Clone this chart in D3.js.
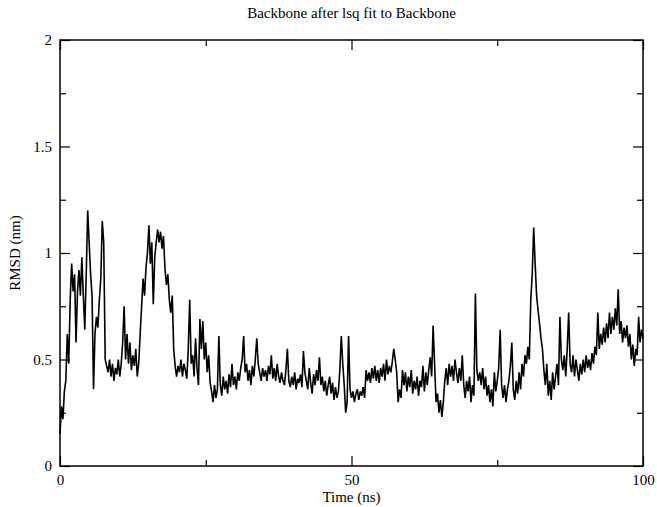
<!DOCTYPE html>
<html>
<head>
<meta charset="utf-8">
<script src="https://cdnjs.cloudflare.com/ajax/libs/d3/7.8.5/d3.min.js"></script>
<style>
  body { margin: 0; background: #fff; }
  text { font-family: "Liberation Serif", "DejaVu Serif", serif; fill: #000; }
</style>
</head>
<body>
<div id="chart"></div>
<script>
// rmsd values, one every 0.25 ns (4 per row = 1 ns)
var rmsd = [
  0.15, 0.28, 0.22, 0.35,  0.40, 0.62, 0.48, 0.78,  0.95, 0.82, 0.90, 0.58,  0.82, 0.92, 0.80, 0.98,
  0.80, 0.64, 0.90, 1.20,  1.05, 0.90, 0.80, 0.36,  0.62, 0.70, 0.65, 0.78,  0.88, 1.15, 1.05, 0.50,
  0.47, 0.44, 0.50, 0.42,  0.48, 0.40, 0.46, 0.43,  0.50, 0.42, 0.48, 0.58,  0.75, 0.50, 0.62, 0.48,
  0.58, 0.45, 0.52, 0.47,  0.55, 0.42, 0.48, 0.62,  0.75, 0.88, 0.80, 0.93,  1.00, 1.13, 0.95, 1.05,
  0.76, 0.98, 1.05, 1.11,  1.05, 1.10, 1.02, 1.08,  0.93, 0.85, 0.90, 0.78,  0.72, 0.80, 0.55, 0.47,
  0.42, 0.47, 0.44, 0.50,  0.42, 0.48, 0.45, 0.41,  0.55, 0.78, 0.48, 0.52,  0.42, 0.60, 0.46, 0.38,
  0.69, 0.55, 0.68, 0.50,  0.58, 0.44, 0.52, 0.39,  0.35, 0.30, 0.38, 0.32,  0.36, 0.61, 0.38, 0.33,
  0.42, 0.36, 0.40, 0.34,  0.43, 0.37, 0.48, 0.38,  0.42, 0.36, 0.44, 0.40,  0.46, 0.50, 0.61, 0.44,
  0.48, 0.40, 0.45, 0.38,  0.47, 0.42, 0.50, 0.60,  0.48, 0.44, 0.40, 0.46,  0.42, 0.45, 0.40, 0.47,
  0.43, 0.52, 0.41, 0.46,  0.40, 0.48, 0.42, 0.39,  0.44, 0.40, 0.38, 0.45,  0.55, 0.40, 0.37, 0.42,
  0.38, 0.44, 0.36, 0.41,  0.39, 0.43, 0.37, 0.54,  0.44, 0.40, 0.36, 0.46,  0.39, 0.34, 0.43, 0.38,
  0.45, 0.40, 0.51, 0.38,  0.42, 0.35, 0.40, 0.33,  0.38, 0.42, 0.34, 0.39,  0.31, 0.37, 0.32, 0.35,
  0.45, 0.61, 0.48, 0.38,  0.25, 0.30, 0.61, 0.36,  0.32, 0.35, 0.30, 0.34,  0.36, 0.31, 0.35, 0.33,
  0.37, 0.32, 0.45, 0.40,  0.44, 0.39, 0.46, 0.41,  0.47, 0.40, 0.45, 0.39,  0.46, 0.42, 0.48, 0.40,
  0.50, 0.43, 0.47, 0.44,  0.49, 0.55, 0.50, 0.44,  0.30, 0.36, 0.32, 0.45,  0.38, 0.44, 0.35, 0.42,
  0.37, 0.45, 0.34, 0.40,  0.36, 0.42, 0.33, 0.40,  0.37, 0.47, 0.35, 0.44,  0.38, 0.45, 0.51, 0.42,
  0.66, 0.48, 0.30, 0.34,  0.25, 0.31, 0.23, 0.30,  0.40, 0.46, 0.38, 0.48,  0.42, 0.47, 0.40, 0.50,
  0.44, 0.39, 0.46, 0.40,  0.52, 0.38, 0.32, 0.40,  0.35, 0.42, 0.30, 0.38,  0.33, 0.81, 0.45, 0.40,
  0.44, 0.38, 0.46, 0.36,  0.42, 0.33, 0.38, 0.30,  0.36, 0.28, 0.44, 0.35,  0.40, 0.46, 0.64, 0.38,
  0.32, 0.38, 0.30, 0.36,  0.40, 0.47, 0.58, 0.36,  0.31, 0.40, 0.34, 0.44,  0.36, 0.48, 0.42, 0.52,
  0.48, 0.56, 0.50, 0.78,  0.90, 1.12, 0.95, 0.80,  0.73, 0.67, 0.60, 0.55,  0.45, 0.38, 0.48, 0.33,
  0.40, 0.31, 0.44, 0.36,  0.42, 0.48, 0.38, 0.70,  0.50, 0.45, 0.52, 0.42,  0.55, 0.72, 0.48, 0.44,
  0.52, 0.42, 0.50, 0.45,  0.40, 0.48, 0.43, 0.50,  0.44, 0.52, 0.46, 0.50,  0.45, 0.53, 0.48, 0.56,
  0.52, 0.72, 0.55, 0.62,  0.57, 0.65, 0.58, 0.67,  0.60, 0.72, 0.62, 0.70,  0.64, 0.74, 0.66, 0.83,
  0.62, 0.68, 0.58, 0.65,  0.60, 0.66, 0.56, 0.62,  0.50, 0.57, 0.47, 0.55,  0.52, 0.70, 0.58, 0.64,
  0.60
];
var step = 0.25; // ns between samples

var xMajor = [0, 50, 100],
    xMinor = [25, 75],
    yMajor = [0, 0.5, 1, 1.5, 2],
    yMinor = [0.25, 0.75, 1.25, 1.75];

var title = "Backbone after lsq fit to Backbone",
    xTitle = "Time (ns)",
    yTitle = "RMSD (nm)";

var margin = { top: 40, left: 60, right: 14, bottom: 41 },
    width = 657 - margin.left - margin.right,
    height = 507 - margin.top - margin.bottom;

var svg = d3.select("#chart")
    .append("svg")
    .attr("width", 657)
    .attr("height", 507)
    .append("g")
    .attr("transform", "translate(" + margin.left + "," + margin.top + ")");

var x = d3.scaleLinear().domain([0, 100]).range([0, width]);
var y = d3.scaleLinear().domain([0, 2]).range([height, 0]);

// the trace itself (a bit heavy, the original is a dense band of frames)
var line = d3.line()
    .x(function(d, i) { return x(i * step); })
    .y(function(d) { return y(d); });

svg.append("path")
    .datum(rmsd)
    .attr("d", line)
    .attr("fill", "none")
    .attr("stroke", "#000")
    .attr("stroke-width", 1.6)
    .attr("stroke-linejoin", "miter");

// grace style: inward ticks on all four sides, labels only bottom + left
function ticks(axis, values, len) {
    return axis(values === xMajor || values === xMinor ? x : y)
        .tickValues(values)
        .tickSizeInner(-len)
        .tickSizeOuter(0)
        .tickPadding(6);
}

var bottomMajor = svg.append("g").attr("transform", "translate(0," + height + ")")
    .call(ticks(d3.axisBottom, xMajor, 10).tickFormat(d3.format("d")));
svg.append("g").attr("transform", "translate(0," + height + ")")
    .call(ticks(d3.axisBottom, xMinor, 6).tickFormat(""));
svg.append("g").call(ticks(d3.axisTop, xMajor, 10).tickFormat(""));
svg.append("g").call(ticks(d3.axisTop, xMinor, 6).tickFormat(""));

var leftMajor = svg.append("g")
    .call(ticks(d3.axisLeft, yMajor, 10).tickFormat(function(d) { return d3.format("")(d); }));
svg.append("g").call(ticks(d3.axisLeft, yMinor, 6).tickFormat(""));
svg.append("g").attr("transform", "translate(" + width + ",0)")
    .call(ticks(d3.axisRight, yMajor, 10).tickFormat(""));
svg.append("g").attr("transform", "translate(" + width + ",0)")
    .call(ticks(d3.axisRight, yMinor, 6).tickFormat(""));

svg.selectAll(".domain").remove();
svg.selectAll(".tick line").attr("stroke", "#000").attr("stroke-width", 1.2);
svg.selectAll(".tick text").style("font-size", "15px").attr("fill", "#000");
bottomMajor.selectAll(".tick text").attr("dy", "0.9em").attr("y", 5);
leftMajor.selectAll(".tick text").attr("x", -8);

// frame
svg.append("rect")
    .attr("width", width)
    .attr("height", height)
    .attr("fill", "none")
    .attr("stroke", "#000")
    .attr("stroke-width", 1.5);

// titles
svg.append("text")
    .attr("x", width / 2)
    .attr("y", -22)
    .attr("text-anchor", "middle")
    .style("font-size", "15px")
    .text(title);

svg.append("text")
    .attr("x", width / 2)
    .attr("y", height + 36)
    .attr("text-anchor", "middle")
    .style("font-size", "15px")
    .text(xTitle);

svg.append("text")
    .attr("transform", "translate(-40," + (height / 2) + ") rotate(-90)")
    .attr("text-anchor", "middle")
    .style("font-size", "15px")
    .text(yTitle);
</script>
</body>
</html>
